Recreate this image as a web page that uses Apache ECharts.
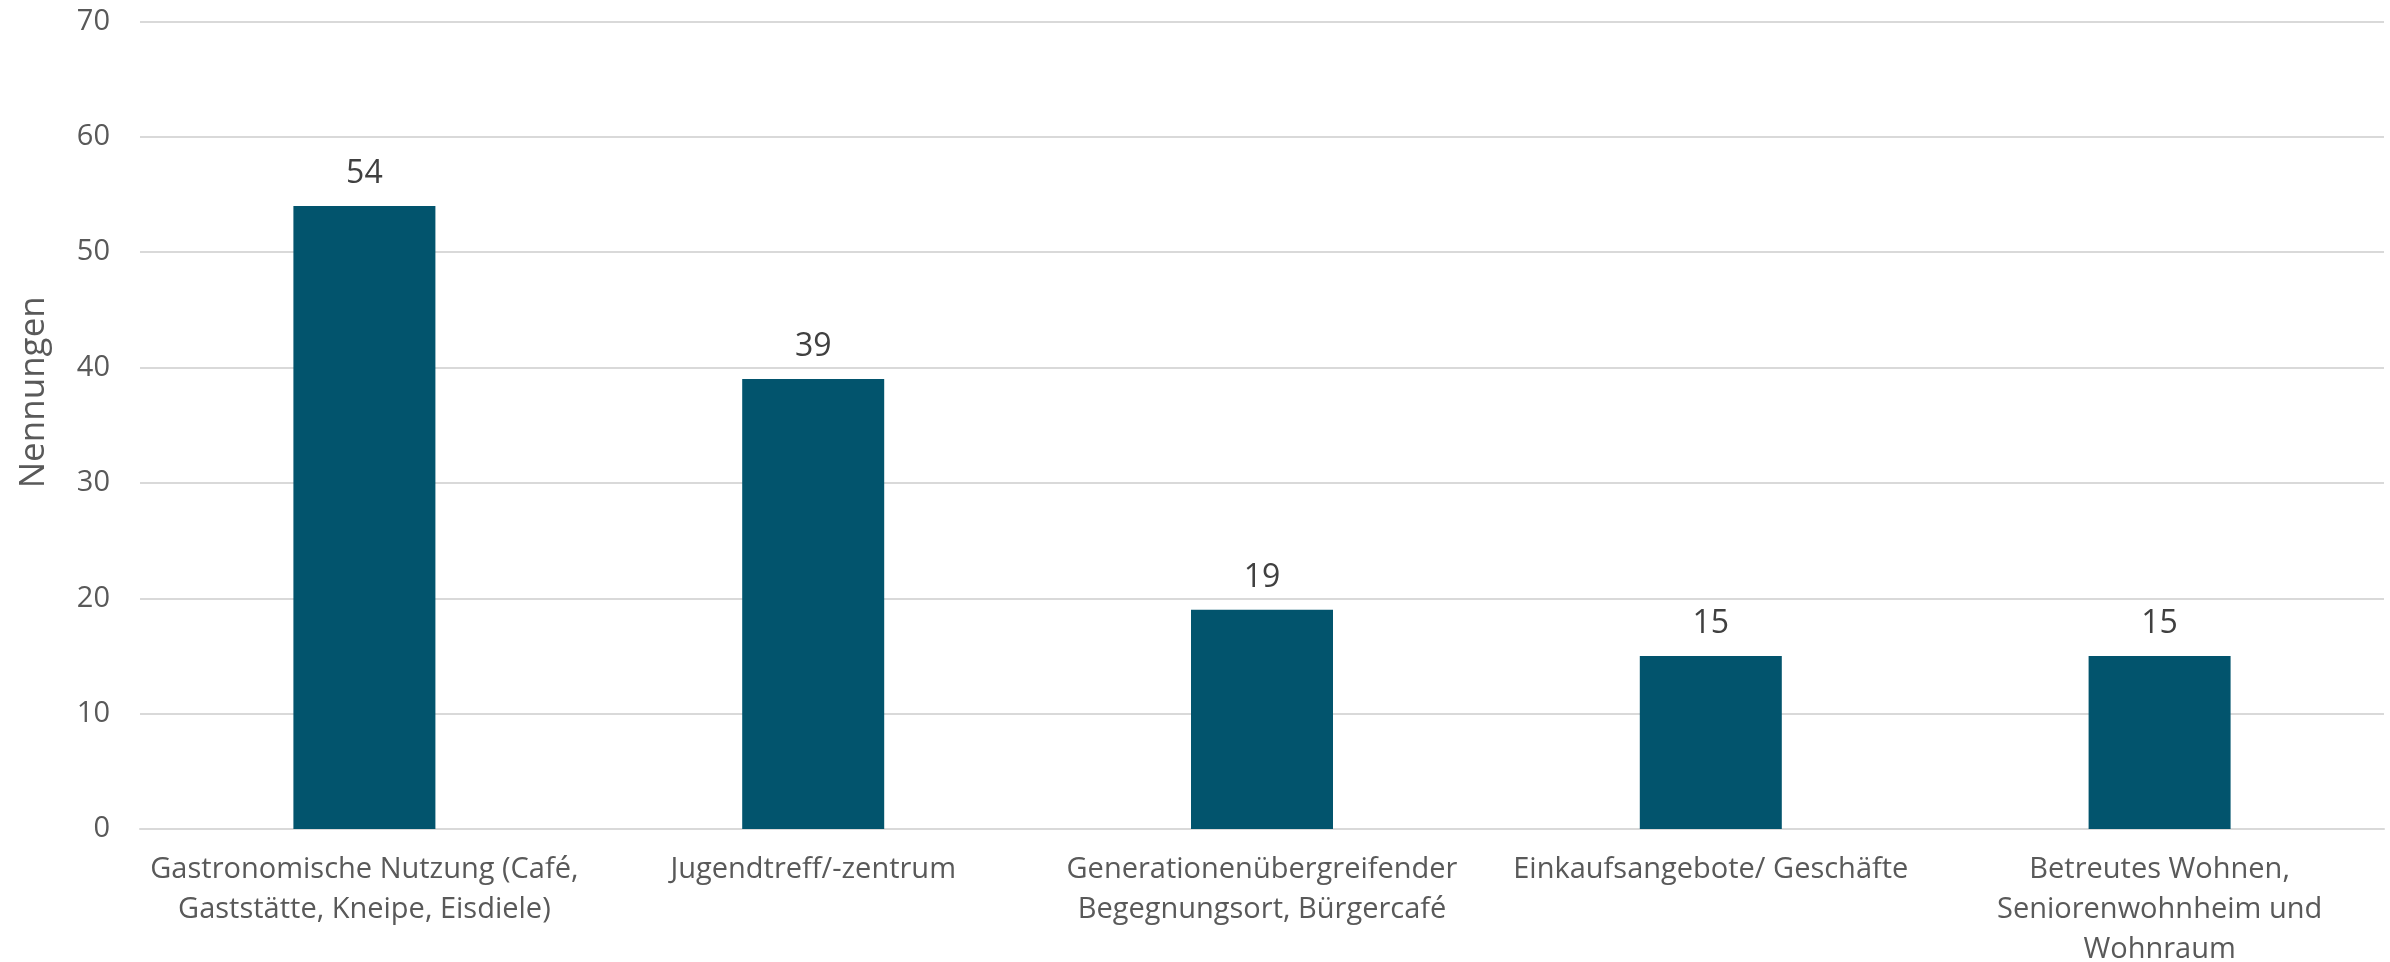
<!DOCTYPE html>
<html>
<head>
<meta charset="utf-8">
<script src="https://cdn.jsdelivr.net/npm/echarts@6/dist/echarts.min.js"></script>
<style>
  html, body { margin: 0; padding: 0; background: #fff; }
  #chart { width: 2390px; height: 962px; }
</style>
</head>
<body>
<div id="chart"></div>
<script>
  // Kategorien und Werte
  var categories = [
    'Gastronomische Nutzung (Café,\nGaststätte, Kneipe, Eisdiele)',
    'Jugendtreff/-zentrum',
    'Generationenübergreifender\nBegegnungsort, Bürgercafé',
    'Einkaufsangebote/ Geschäfte',
    'Betreutes Wohnen,\nSeniorenwohnheim und\nWohnraum'
  ];
  var nennungen = [54, 39, 19, 15, 15];
  var yTicks = [0, 10, 20, 30, 40, 50, 60, 70];

  var font = '"Open Sans", "Noto Sans", sans-serif';
  var myChart = echarts.init(document.getElementById('chart'));
  myChart.setOption({
    animation: false,
    textStyle: { fontFamily: font },
    grid: { left: 140, right: 6, top: 21.5, bottom: 133, outerBoundsMode: 'none', containLabel: false },
    xAxis: {
      type: 'category',
      data: categories,
      axisTick: { show: false },
      axisLine: { lineStyle: { color: '#d9d9d9', width: 2 } },
      axisLabel: {
        interval: 0,
        color: '#595959',
        fontSize: 29,
        lineHeight: 40,
        margin: 21,
        fontFamily: font
      }
    },
    yAxis: {
      type: 'value',
      min: yTicks[0],
      max: yTicks[yTicks.length - 1],
      interval: 10,
      name: 'Nennungen',
      nameLocation: 'middle',
      nameRotate: 90,
      nameGap: 88,
      nameTextStyle: { color: '#595959', fontSize: 35, fontFamily: font, padding: [0, 0, 0, 66] },
      axisLine: { show: false },
      axisTick: { show: false },
      axisLabel: { color: '#595959', fontSize: 29, margin: 30, fontFamily: font },
      splitLine: { lineStyle: { color: '#d9d9d9', width: 2 } }
    },
    series: [{
      type: 'bar',
      data: nennungen,
      barWidth: 142,
      itemStyle: { color: '#02546d' },
      label: {
        show: true,
        position: 'top',
        distance: 16,
        color: '#404040',
        fontSize: 32,
        fontFamily: font
      }
    }]
  });
</script>
</body>
</html>
